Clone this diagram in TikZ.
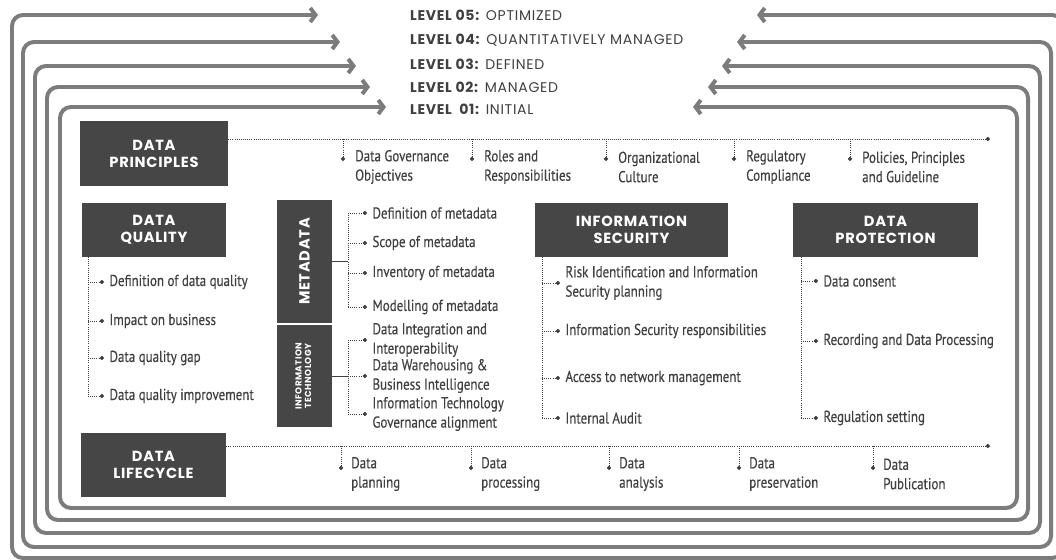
\documentclass[tikz,border=0pt]{standalone}
\usepackage{fontspec}
\setmainfont{PT Sans}
\newfontfamily\headfont[LetterSpace=5]{Poppins}
\newfontfamily\itemfont[FakeStretch=0.82, FakeBold=0.4]{PT Sans}
\usepackage{tikz}
\usetikzlibrary{positioning}
\usetikzlibrary{arrows.meta}
\definecolor{boxgray}{HTML}{464646}
\definecolor{linegray}{HTML}{7C7C7C}
\definecolor{textgray}{HTML}{404040}
\tikzstyle{headbox} = [rectangle, fill=boxgray, text=white, align=center, inner sep=0pt, font=\headfont\bfseries\fontsize{12.5}{14.5}\selectfont]
\tikzstyle{level} = [anchor=west, inner sep=0pt, text=textgray, font=\headfont\fontsize{12}{13}\selectfont]
\tikzstyle{item} = [anchor=west, align=left, inner ysep=0pt, inner xsep=4.5pt, text=textgray, font=\itemfont\fontsize{13.5}{16.5}\selectfont]
\tikzstyle{tag} = [item, inner xsep=0pt]
\tikzstyle{levelline} = [draw=linegray, line width=3.4pt, rounded corners=0.33cm, {Straight Barb[length=4.5pt,width=12pt]}-{Straight Barb[length=4.5pt,width=12pt]}]
\tikzstyle{spine} = [draw=textgray, densely dotted, thick]
\tikzstyle{branch} = [draw=textgray, densely dotted, thick, -{Circle[length=3.5pt]}]
\tikzstyle{stem} = [draw=textgray, thick]

\begin{document}
\begin{tikzpicture}[x=0.03cm, y=-0.03cm]
	\useasboundingbox (0,0) rectangle (1056,560);
	\clip (0,0) rectangle (1056,560);

	% maturity level loops
	\foreach \l/\t/\r/\b/\a/\c in {60/107/1017/508/386/693, 47/87/1028/520/370/708, 35/66/1040/533/356/722, 23/42/1051/547/340/737, 12/15/1063/558/318/757}
		\draw [levelline] (\a,\t) -- (\l,\t) -- (\l,\b) -- (\r,\b) -- (\r,\t) -- (\c,\t);

	% level titles
	\node [level] (lv5) at (410,15)  {\textbf{LEVEL 05:} OPTIMIZED};
	\node [level] (lv4) at (410,40)  {\textbf{LEVEL 04:} QUANTITATIVELY MANAGED};
	\node [level] (lv3) at (410,64)  {\textbf{LEVEL 03:} DEFINED};
	\node [level] (lv2) at (410,87)  {\textbf{LEVEL 02:} MANAGED};
	\node [level] (lv1) at (410,109) {\textbf{LEVEL\ \ 01:} INITIAL};

	% place boxes
	\node [headbox, minimum width=4.44cm, minimum height=1.95cm] (principles) at (154,153.5) {DATA\\PRINCIPLES};
	\node [headbox, minimum width=4.32cm, minimum height=1.62cm] (quality)    at (154,230)   {DATA\\QUALITY};
	\node [headbox, minimum width=4.35cm, minimum height=1.92cm] (lifecycle)  at (153.5,465) {DATA\\LIFECYCLE};
	\node [headbox, minimum width=1.65cm, minimum height=3.69cm] (meta)       at (304.5,261.5) {\rotatebox{90}{METADATA}};
	\node [headbox, minimum width=1.65cm, minimum height=3.06cm, font=\headfont\bfseries\fontsize{7.5}{8}\selectfont] (infotech) at (304.5,376) {\rotatebox{90}{\begin{tabular}{@{}c@{}}INFORMATION\\TECHNOLOGY\end{tabular}}};
	\node [headbox, minimum width=5.79cm, minimum height=1.62cm] (infosec)    at (631.5,230) {INFORMATION\\SECURITY};
	\node [headbox, minimum width=5.55cm, minimum height=1.62cm] (protection) at (885.5,230) {DATA\\PROTECTION};

	% data principles line
	\coordinate (pend) at (990,139);
	\draw [branch] (principles.east |- pend) -- (pend);
	\foreach \x/\n/\txt in {343/p1/{Data Governance\\Objectives}, 472/p2/{Roles and\\Responsibilities}, 606/p3/{Organizational\\Culture}, 734/p4/{Regulatory\\Compliance}, 850/p5/{Policies, Principles\\and Guideline}} {
		\draw [branch] (\x,139) -- ++(0,22);
		\node [tag] (\n) at (\x+12,167) {\txt};
	}

	% data lifecycle line
	\coordinate (lend) at (990,446);
	\draw [branch] (lifecycle.east |- lend) -- (lend);
	\foreach \x/\n/\txt in {341/c1/{Data\\planning}, 471/c2/{Data\\processing}, 609/c3/{Data\\analysis}, 739/c4/{Data\\preservation}, 873/c5/{Data\\Publication}} {
		\draw [branch] (\x,446) -- ++(0,24);
		\node [tag] (\n) at (\x+10,474) {\txt};
	}

	% data quality items
	\node [item] (q1) at (104,282) {Definition of data quality};
	\node [item] (q2) at (104,321) {Impact on business};
	\node [item] (q3) at (104,358) {Data quality gap};
	\node [item] (q4) at (104,396) {Data quality improvement};
	\coordinate (qs) at (88,257);
	\draw [spine] (qs) -- (qs |- q4.west);
	\foreach \n in {q1,q2,q3,q4}
		\draw [branch] (qs |- \n.west) -- (\n.west);

	% metadata items
	\node [item] (m1) at (367,213) {Definition of metadata};
	\node [item] (m2) at (367,243) {Scope of metadata};
	\node [item] (m3) at (367,273) {Inventory of metadata};
	\node [item] (m4) at (367,307) {Modelling of metadata};
	\coordinate (ms) at (348,0);
	\draw [stem] (meta.east) -- (meta.east -| ms);
	\draw [spine] (ms |- m1.west) -- (ms |- m4.west);
	\foreach \n in {m1,m2,m3,m4}
		\draw [branch] (ms |- \n.west) -- (\n.west);

	% information technology items
	\node [item] (i1) at (367,340) {Data Integration and\\Interoperability};
	\node [item] (i2) at (367,376) {Data Warehousing \&\\Business Intelligence};
	\node [item] (i3) at (367,414) {Information Technology\\Governance alignment};
	\draw [stem] (infotech.east) -- (infotech.east -| ms);
	\draw [spine] (ms |- i1.west) -- (ms |- i3.west);
	\foreach \n in {i1,i2,i3}
		\draw [branch] (ms |- \n.west) -- (\n.west);

	% information security items
	\node [item] (s1) at (560,283) {Risk Identification and Information\\Security planning};
	\node [item] (s2) at (560,331) {Information Security responsibilities};
	\node [item] (s3) at (560,378) {Access to network management};
	\node [item] (s4) at (560,418) {Internal Audit};
	\coordinate (ss) at (542,257);
	\draw [spine] (ss) -- (ss |- s4.west);
	\foreach \n in {s1,s2,s3,s4}
		\draw [branch] (ss |- \n.west) -- (\n.west);

	% data protection items
	\node [item] (d1) at (818,281) {Data consent};
	\node [item] (d2) at (818,341) {Recording and Data Processing};
	\node [item] (d3) at (818,418) {Regulation setting};
	\coordinate (ds) at (801,257);
	\draw [spine] (ds) -- (ds |- d3.west);
	\foreach \n in {d1,d2,d3}
		\draw [branch] (ds |- \n.west) -- (\n.west);
\end{tikzpicture}
\end{document}
